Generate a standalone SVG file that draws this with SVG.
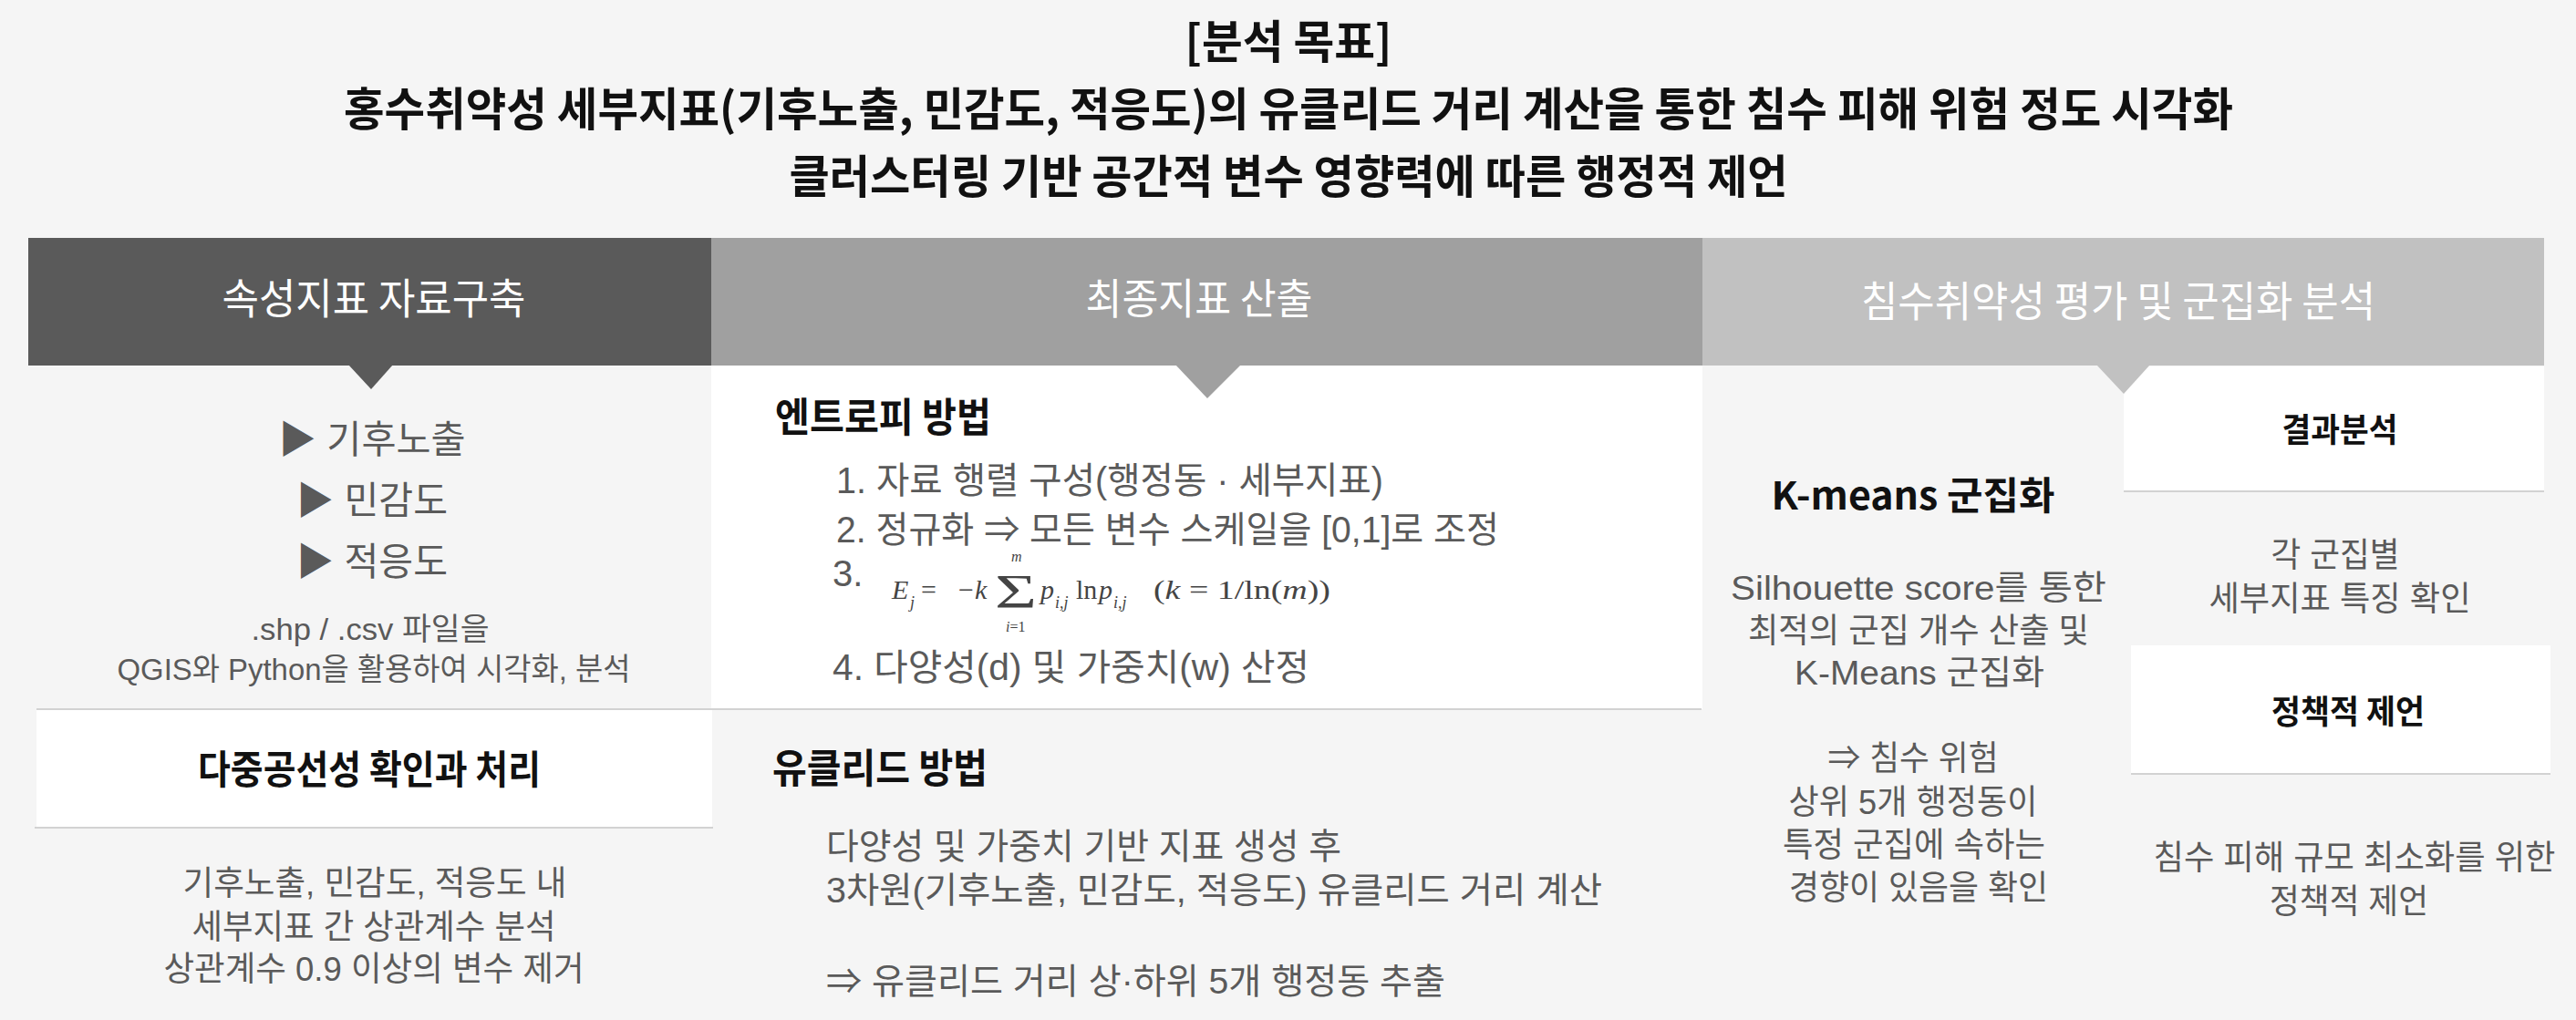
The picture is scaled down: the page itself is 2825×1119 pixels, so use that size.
<svg xmlns="http://www.w3.org/2000/svg" width="2825" height="1119" viewBox="0 0 2825 1119">
<style>
text{font-family:"Noto Sans CJK KR","Noto Sans",sans-serif}
.t{font-weight:bold;fill:#111;font-size:50px;text-anchor:middle}
.h{fill:#fff;font-size:46px;text-anchor:middle}
.b{fill:#5a5a5a;font-family:"Liberation Sans","Noto Sans CJK KR",sans-serif}
.bold{font-weight:bold;fill:#111}
.c{text-anchor:middle}
.line{stroke:#d2d2d2;stroke-width:2}
.fm{font-family:"Liberation Serif",serif;fill:#444}
.it{font-style:italic}
</style>
<rect x="0" y="0" width="2825" height="1119" fill="#f5f5f5"/>

<g id="title">
<text class="t" x="1413" y="64" textLength="227" lengthAdjust="spacingAndGlyphs">[분석 목표]</text>
<text class="t" x="1413" y="138" textLength="2072" lengthAdjust="spacingAndGlyphs">홍수취약성 세부지표(기후노출, 민감도, 적응도)의 유클리드 거리 계산을 통한 침수 피해 위험 정도 시각화</text>
<text class="t" x="1413" y="212" textLength="1095" lengthAdjust="spacingAndGlyphs">클러스터링 기반 공간적 변수 영향력에 따른 행정적 제언</text>
</g>

<g id="col1-header">
<rect x="31" y="261" width="749" height="140" fill="#5a5a5a"/>
<text class="h" x="410" y="344" font-size="47" textLength="333" lengthAdjust="spacingAndGlyphs">속성지표 자료구축</text>
</g>
<g id="col2-header">
<rect x="780" y="261" width="1087" height="140" fill="#a0a0a0"/>
<text class="h" x="1315" y="344" textLength="249" lengthAdjust="spacingAndGlyphs">최종지표 산출</text>
</g>
<g id="col3-header">
<rect x="1867" y="261" width="923" height="140" fill="#c1c1c1"/>
<text class="h" x="2323" y="347" font-size="45" textLength="564" lengthAdjust="spacingAndGlyphs">침수취약성 평가 및 군집화 분석</text>
</g>

<g id="panels">
<rect x="780" y="401" width="1087" height="377" fill="#ffffff"/>
<rect x="40" y="779" width="741" height="129" fill="#ffffff"/>
<rect x="2329" y="402" width="461" height="137" fill="#ffffff"/>
<rect x="2337" y="708" width="460" height="141" fill="#ffffff"/>
<line class="line" x1="40" y1="778" x2="1866" y2="778"/>
<line class="line" x1="38" y1="908" x2="782" y2="908"/>
<line class="line" x1="2329" y1="539" x2="2790" y2="539"/>
<line class="line" x1="2337" y1="849" x2="2797" y2="849"/>
</g>

<g id="connectors">
<polygon points="382,400 431,400 407,427" fill="#5a5a5a"/>
<polygon points="1289,400 1361,400 1324,437" fill="#a0a0a0"/>
<polygon points="2299,400 2358,400 2329,432" fill="#c1c1c1"/>
</g>

<g id="col1-indicators">
<text class="b c" x="408" y="497" font-size="42" textLength="205" lengthAdjust="spacingAndGlyphs">▶ 기후노출</text>
<text class="b c" x="408" y="564" font-size="42" textLength="166" lengthAdjust="spacingAndGlyphs">▶ 민감도</text>
<text class="b c" x="408" y="631" font-size="42" textLength="166" lengthAdjust="spacingAndGlyphs">▶ 적응도</text>
<text class="b c" x="406" y="702" font-size="34" textLength="261" lengthAdjust="spacingAndGlyphs">.shp / .csv 파일을</text>
<text class="b c" x="410" y="746" font-size="34" textLength="563" lengthAdjust="spacingAndGlyphs">QGIS와 Python을 활용하여 시각화, 분석</text>
</g>

<g id="col1-multicollinearity">
<text class="bold c" x="405" y="860" font-size="43" textLength="376" lengthAdjust="spacingAndGlyphs">다중공선성 확인과 처리</text>
<text class="b c" x="411" y="982" font-size="37" textLength="421" lengthAdjust="spacingAndGlyphs">기후노출, 민감도, 적응도 내</text>
<text class="b c" x="410" y="1030" font-size="37" textLength="399" lengthAdjust="spacingAndGlyphs">세부지표 간 상관계수 분석</text>
<text class="b c" x="410" y="1076" font-size="37" textLength="461" lengthAdjust="spacingAndGlyphs">상관계수 0.9 이상의 변수 제거</text>
</g>

<g id="col2-entropy">
<text class="bold" x="850" y="474" font-size="44" textLength="237" lengthAdjust="spacingAndGlyphs">엔트로피 방법</text>
<text class="b" x="917" y="541" font-size="40" textLength="600" lengthAdjust="spacingAndGlyphs">1. 자료 행렬 구성(행정동 · 세부지표)</text>
<text class="b" x="917" y="595" font-size="40" textLength="727" lengthAdjust="spacingAndGlyphs">2. 정규화 ⇒ 모든 변수 스케일을 [0,1]로 조정</text>
<text class="b" x="913" y="643" font-size="40">3.</text>
<text class="fm" font-size="30"><tspan class="it" x="978" y="657">E</tspan><tspan class="it" font-size="18" x="998" y="667">j</tspan><tspan x="1010" y="657">=</tspan><tspan x="1051" y="657">−</tspan><tspan class="it" x="1069" y="657">k</tspan><tspan font-size="53" x="1091" y="667" textLength="46" lengthAdjust="spacingAndGlyphs">Σ</tspan><tspan class="it" font-size="16" x="1109" y="616">m</tspan><tspan font-size="16" x="1103" y="693"><tspan class="it">i</tspan>=1</tspan><tspan class="it" x="1141" y="657">p</tspan><tspan class="it" font-size="18" x="1157" y="667">i,j</tspan><tspan x="1180" y="657">ln</tspan><tspan class="it" x="1205" y="657">p</tspan><tspan class="it" font-size="18" x="1221" y="667">i,j</tspan><tspan x="1265" y="657" textLength="194" lengthAdjust="spacingAndGlyphs">(<tspan class="it">k</tspan> = 1/ln(<tspan class="it">m</tspan>))</tspan></text>
<text class="b" x="913" y="746" font-size="40" textLength="523" lengthAdjust="spacingAndGlyphs">4. 다양성(d) 및 가중치(w) 산정</text>
</g>

<g id="col2-euclid">
<text class="bold" x="847" y="859" font-size="44" textLength="236" lengthAdjust="spacingAndGlyphs">유클리드 방법</text>
<text class="b" x="906" y="942" font-size="39" textLength="565" lengthAdjust="spacingAndGlyphs">다양성 및 가중치 기반 지표 생성 후</text>
<text class="b" x="906" y="990" font-size="39" textLength="851" lengthAdjust="spacingAndGlyphs">3차원(기후노출, 민감도, 적응도) 유클리드 거리 계산</text>
<text class="b" x="906" y="1090" font-size="39" textLength="679" lengthAdjust="spacingAndGlyphs">⇒ 유클리드 거리 상·하위 5개 행정동 추출</text>
</g>

<g id="col3-kmeans">
<text class="bold c" x="2098" y="559" font-size="42" textLength="311" lengthAdjust="spacingAndGlyphs">K-means 군집화</text>
<text class="b c" x="2104" y="658" font-size="37" textLength="412" lengthAdjust="spacingAndGlyphs">Silhouette score를 통한</text>
<text class="b c" x="2104" y="705" font-size="37" textLength="374" lengthAdjust="spacingAndGlyphs">최적의 군집 개수 산출 및</text>
<text class="b c" x="2105" y="751" font-size="37" textLength="274" lengthAdjust="spacingAndGlyphs">K-Means 군집화</text>
<text class="b c" x="2098" y="845" font-size="37" textLength="187" lengthAdjust="spacingAndGlyphs">⇒ 침수 위험</text>
<text class="b c" x="2098" y="893" font-size="37" textLength="273" lengthAdjust="spacingAndGlyphs">상위 5개 행정동이</text>
<text class="b c" x="2099" y="940" font-size="37" textLength="288" lengthAdjust="spacingAndGlyphs">특정 군집에 속하는</text>
<text class="b c" x="2104" y="987" font-size="37" textLength="284" lengthAdjust="spacingAndGlyphs">경향이 있음을 확인</text>
</g>

<g id="col3-result">
<text class="bold c" x="2566" y="485" font-size="36" textLength="127" lengthAdjust="spacingAndGlyphs">결과분석</text>
<text class="b c" x="2561" y="622" font-size="37" textLength="141" lengthAdjust="spacingAndGlyphs">각 군집별</text>
<text class="b c" x="2566" y="670" font-size="37" textLength="287" lengthAdjust="spacingAndGlyphs">세부지표 특징 확인</text>
</g>

<g id="col3-policy">
<text class="bold c" x="2575" y="794" font-size="36" textLength="168" lengthAdjust="spacingAndGlyphs">정책적 제언</text>
<text class="b c" x="2582" y="954" font-size="37" textLength="441" lengthAdjust="spacingAndGlyphs">침수 피해 규모 최소화를 위한</text>
<text class="b c" x="2576" y="1002" font-size="37" textLength="174" lengthAdjust="spacingAndGlyphs">정책적 제언</text>
</g>
</svg>
